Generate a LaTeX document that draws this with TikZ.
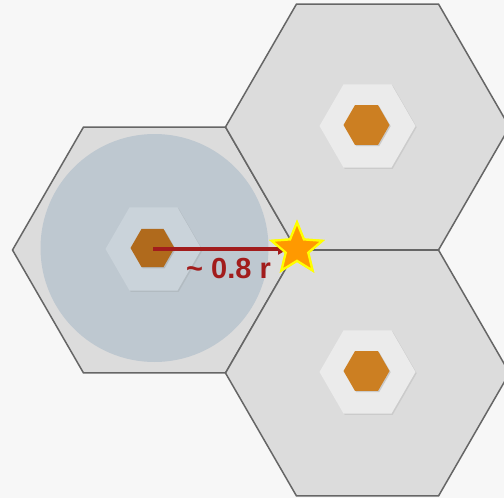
\documentclass[tikz,border=0pt]{standalone}
\usepackage{fontspec}
\setmainfont{Liberation Sans}
\usetikzlibrary{shapes.geometric,shadows,arrows.meta}
\definecolor{bgcol}{HTML}{F7F7F7}
\definecolor{cellfill}{HTML}{DCDCDC}
\definecolor{celledge}{HTML}{666666}
\definecolor{towerbase}{HTML}{EBEBEB}
\definecolor{towercol}{HTML}{CC7F22}
\definecolor{covercol}{HTML}{BEC8D0}
\definecolor{towerbaseB}{HTML}{CAD3DA}
\definecolor{towercolB}{HTML}{B06A1C}
\definecolor{arrowcol}{RGB}{162,28,28}
\definecolor{starfill}{HTML}{FF9900}
\definecolor{staredge}{HTML}{FFFF00}
\tikzset{
  hexcell/.style={fill=cellfill, draw=celledge, line width=1.5pt, line join=miter},
  towerpad/.style={fill=towerbase, drop shadow={opacity=0.18, shadow xshift=1.2pt, shadow yshift=-1.2pt}},
  tower/.style={fill=towercol, drop shadow={opacity=0.3, shadow xshift=1.2pt, shadow yshift=-1.2pt}},
  coverage/.style={fill=covercol},
  rangearrow/.style={draw=arrowcol, line width=4pt, -{Triangle[length=10pt,width=11pt]}},
  rangelabel/.style={text=arrowcol, font=\bfseries\fontsize{29}{33}\selectfont, inner sep=0pt},
  hotspot/.style={star, star points=5, star point ratio=2.25, minimum size=53pt, inner sep=0pt, fill=starfill, draw=staredge, line width=2.2pt}
}
\newcommand{\hexpath}[3]{(#1,#2) +(0:#3) -- +(60:#3) -- +(120:#3) -- +(180:#3) -- +(240:#3) -- +(300:#3) -- cycle}
\begin{document}
\begin{tikzpicture}[x=1pt,y=-1pt]
\useasboundingbox (0,0) rectangle (504,498);
\fill[bgcol] (0,0) rectangle (504,498);
\clip (0,0) rectangle (504,498);
% cells
\coordinate (cA) at (154.5,250);
\coordinate (cB) at (367.5,127);
\coordinate (cC) at (367.5,373);
\draw[hexcell] \hexpath{154.5}{250}{142};
\draw[hexcell] \hexpath{367.5}{127}{142};
\draw[hexcell] \hexpath{367.5}{373}{142};
% coverage circle
\fill[coverage] (154.5,248) circle[radius=114];
% towers
\path[towerpad, fill=towerbaseB] \hexpath{153.5}{249}{48};
\path[towerpad] \hexpath{367.5}{126}{48};
\path[towerpad] \hexpath{367.5}{372}{48};
\path[tower, fill=towercolB] \hexpath{152.5}{248}{22};
\path[tower] \hexpath{366.5}{125}{23};
\path[tower] \hexpath{366.5}{371}{23};
% star and arrow
\node[hotspot] (hot) at (297,249) {};
\coordinate (src) at (153,249);
\draw[rangearrow] (src) -- ([xshift=-9pt]hot.center);
\node[hotspot] at (hot.center) {};
\node[rangelabel] (lbl) at (228.5,269) {\char`\~\ 0.8 r};
\end{tikzpicture}
\end{document}
